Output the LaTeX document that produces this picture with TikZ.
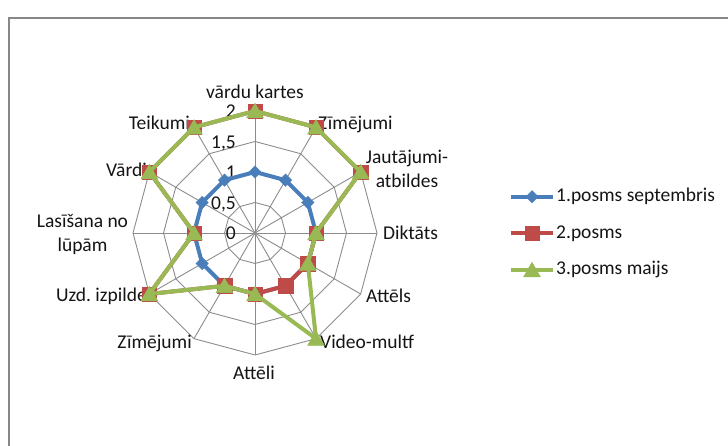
\documentclass[tikz,border=0pt]{standalone}
\usepackage{fontspec}
\setmainfont{Carlito}
\usetikzlibrary{shapes.geometric}
\definecolor{serA}{HTML}{4A7EBB}
\definecolor{serB}{HTML}{BE4B48}
\definecolor{serC}{HTML}{98B954}
\definecolor{gridgray}{HTML}{8C8C8C}
\definecolor{framegray}{HTML}{878787}
\definecolor{txt}{HTML}{141414}

\begin{document}
\frenchspacing
\begin{tikzpicture}[x=1pt,y=1pt,
  lbl/.style={inner sep=0pt, font=\fontsize{19.5}{24}\selectfont, text=txt},
  gridline/.style={draw=gridgray, line width=0.9pt},
  serline/.style={line width=4pt, line join=round, line cap=round},
  mkA/.style={diamond, fill=serA, draw=serA, inner sep=0pt, minimum size=12.5pt},
  mkB/.style={rectangle, fill=serB, draw=serB, inner sep=0pt, minimum size=14.5pt},
  mkC/.style={regular polygon, regular polygon sides=3, fill=serC, draw=serC,
              inner sep=0pt, minimum size=19.5pt, yshift=-2pt},
]
\useasboundingbox (0,0) rectangle (728,446);

% chart area frame
\coordinate (fbl) at (9,0);
\coordinate (ftl) at (9,428);
\coordinate (ftr) at (728,428);
\draw[framegray, line width=1.8pt] (fbl) -- (ftl) -- (ftr);

\begin{scope}[shift={(255,213)}]
  \coordinate (ctr) at (0,0);
  % rings at 0.5, 1, 1.5, 2
  \foreach \r in {30.5,61,91.5,122}
    \draw[gridline] (90:\r) \foreach \a in {60,30,...,-240}{ -- (\a:\r)} -- cycle;
  % spokes
  \foreach \a in {0,30,...,330}
    \draw[gridline] (ctr) -- (\a:122);

  % scale labels
  \foreach \v/\t in {0/0, 1/{0,5}, 2/1, 3/{1,5}, 4/2}
    \node[lbl, anchor=base east] (tick\v) at (-19,\v*30.5-7) {\t};

  % category labels
  \node[lbl, anchor=base]      (c0)  at (0,134)        {vārdu kartes};
  \node[lbl, anchor=base west] (c1)  at (63,103)       {Zīmējumi};
  \node[lbl, align=center]     (c2)  at (152,64.5)     {Jautājumi-\\atbildes};
  \node[lbl, anchor=base west] (c3)  at (128,-6.3)     {Diktāts};
  \node[lbl, anchor=base west] (c4)  at (111,-69.7)    {Attēls};
  \node[lbl, anchor=base west] (c5)  at (65,-115.3)    {Video-multf};
  \node[lbl, anchor=base]      (c6)  at (-1,-146.3)    {Attēli};
  \node[lbl, anchor=base east] (c7)  at (-63,-115.3)   {Zīmējumi};
  \node[lbl, anchor=base east] (c8)  at (-108,-68.7)   {Uzd.\ izpilde};
  \node[lbl, align=center]     (c9)  at (-172.5,-1.3)  {Lasīšana no\\lūpām};
  \node[lbl, anchor=base east] (c10) at (-108,56.3)    {Vārdi};
  \node[lbl, anchor=base east] (c11) at (-65,103)      {Teikumi};

  % data points (one unit = 61pt)
  \foreach \i/\v in {0/1,1/1,2/1,3/1,4/1,5/1,6/1,7/1,8/1,9/1,10/1,11/1}
    \coordinate (a\i) at ({90-30*\i}:{\v*61});
  \foreach \i/\v in {0/2,1/2,2/2,3/1,4/1,5/1,6/1,7/1,8/2,9/1,10/2,11/2}
    \coordinate (b\i) at ({90-30*\i}:{\v*61});
  \foreach \i/\v in {0/2,1/2,2/2,3/1,4/1,5/2,6/1,7/1,8/2,9/1,10/2,11/2}
    \coordinate (g\i) at ({90-30*\i}:{\v*61});

  % series 1
  \draw[serline, serA] (a0) -- (a1) -- (a2) -- (a3) -- (a4) -- (a5) -- (a6)
    -- (a7) -- (a8) -- (a9) -- (a10) -- (a11) -- cycle;
  \foreach \i in {0,...,11} \node[mkA] (ma\i) at (a\i) {};
  % series 2
  \draw[serline, serB] (b0) -- (b1) -- (b2) -- (b3) -- (b4) -- (b5) -- (b6)
    -- (b7) -- (b8) -- (b9) -- (b10) -- (b11) -- cycle;
  \foreach \i in {0,...,11} \node[mkB] (mb\i) at (b\i) {};
  % series 3
  \draw[serline, serC] (g0) -- (g1) -- (g2) -- (g3) -- (g4) -- (g5) -- (g6)
    -- (g7) -- (g8) -- (g9) -- (g10) -- (g11) -- cycle;
  \foreach \i in {0,...,11} \node[mkC] (mg\i) at (g\i) {};
\end{scope}

% legend
\coordinate (l1a) at (511,249.3); \coordinate (l1b) at (553,249.3);
\coordinate (l2a) at (511,212.7); \coordinate (l2b) at (553,212.7);
\coordinate (l3a) at (511,176);   \coordinate (l3b) at (553,176);
\draw[serline, serA, line cap=butt] (l1a) -- (l1b);
\node[mkA] (lm1) at (532,249.3) {};
\node[lbl, anchor=base west] (lt1) at (556,244.3) {1.posms septembris};
\draw[serline, serB, line cap=butt] (l2a) -- (l2b);
\node[mkB] (lm2) at (532,212.7) {};
\node[lbl, anchor=base west] (lt2) at (556,207.7) {2.posms};
\draw[serline, serC, line cap=butt] (l3a) -- (l3b);
\node[mkC] (lm3) at (532,176) {};
\node[lbl, anchor=base west] (lt3) at (556,171) {3.posms maijs};
\end{tikzpicture}
\end{document}
